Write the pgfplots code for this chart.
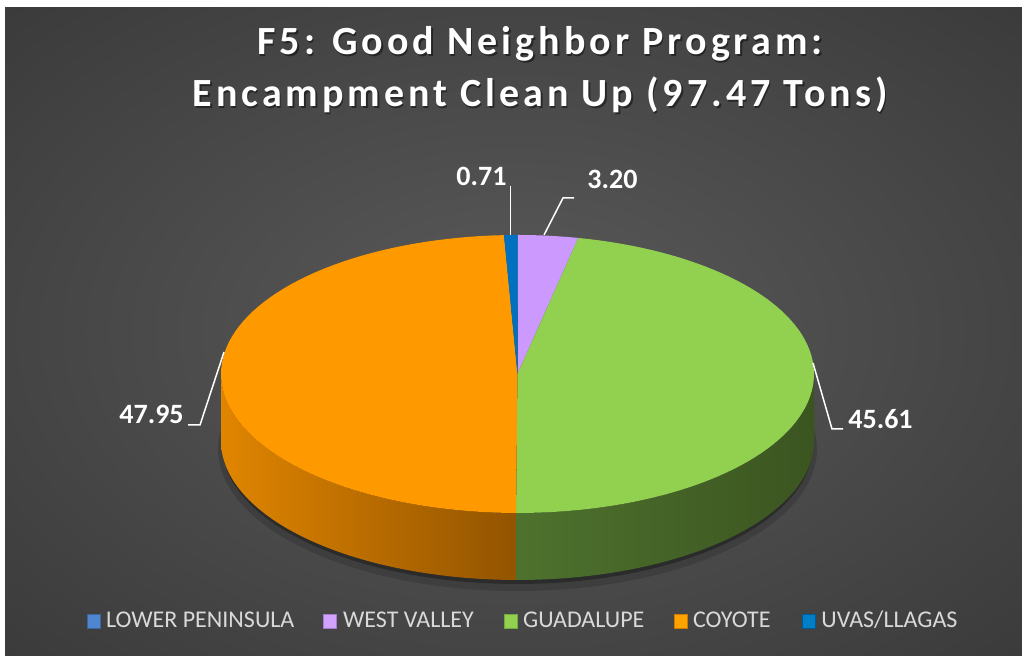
\documentclass[border=0pt]{standalone}
\usepackage{pgfplots}
\pgfplotsset{compat=1.18}
\usepackage{pgfplotstable}
\usepackage{fontspec}
\setmainfont{Carlito}
\newfontfamily\titlefont[LetterSpace=10]{Carlito}

\definecolor{cLP}{HTML}{4F86CF}
\definecolor{cWV}{HTML}{CC99FF}
\definecolor{cGU}{HTML}{92D050}
\definecolor{cCO}{HTML}{FF9900}
\definecolor{cUV}{HTML}{0070C0}
\definecolor{coL}{HTML}{E08500}
\definecolor{coM}{HTML}{BB6E06}
\definecolor{coR}{HTML}{925400}
\definecolor{guL}{HTML}{4E722E}
\definecolor{guM}{HTML}{415E25}
\definecolor{guR}{HTML}{3B5520}
\definecolor{legtxt}{HTML}{D9D9D9}
\definecolor{bgc}{HTML}{5A5A5A}
\definecolor{bge}{HTML}{2E2E2E}
\definecolor{bgx}{HTML}{262626}
\pgfdeclareradialshading{bgshade}{\pgfpoint{0bp}{0bp}}{color(0bp)=(bgc); color(50bp)=(bge); color(72bp)=(bgx)}

\pgfplotstableread{
region value
LP 0
WV 3.20
GU 45.61
CO 47.95
UV 0.71
}\piedata
\pgfplotstablegetelem{0}{value}\of\piedata \let\vLP\pgfplotsretval
\pgfplotstablegetelem{1}{value}\of\piedata \let\vWV\pgfplotsretval
\pgfplotstablegetelem{2}{value}\of\piedata \let\vGU\pgfplotsretval
\pgfplotstablegetelem{3}{value}\of\piedata \let\vCO\pgfplotsretval
\pgfplotstablegetelem{4}{value}\of\piedata \let\vUV\pgfplotsretval
\pgfmathsetmacro\tot{\vLP+\vWV+\vGU+\vCO+\vUV}
\pgfmathsetmacro\aB{90-360*(\vLP/\tot)}
\pgfmathsetmacro\aC{\aB-360*(\vWV/\tot)}
\pgfmathsetmacro\aD{\aC-360*(\vGU/\tot)}
\pgfmathsetmacro\aE{\aD-360*(\vCO/\tot)}
\pgfmathsetmacro\aF{\aE-360*(\vUV/\tot)}

\def\cx{517.5}
\def\cy{282}
\def\rx{296.5}
\def\ry{139}
\def\dd{67}

% top slice: #1 options, #2 from angle, #3 to angle
\newcommand{\topslice}[3]{%
\addplot[#1, draw=none, domain=#2:#3, samples=80, variable=\t]
 ({\cx+\rx*cos(\t)},{\cy+\ry*sin(\t)}) -- (axis cs:\cx,\cy) -- cycle;}
% side wall
\newcommand{\sidewall}[3]{%
\addplot[#1, draw=none, samples at={0,0.01,...,0.99,1,1.00001,1.01,...,2,2}, variable=\t]
 ({\cx+\rx*cos(#2+(#3-#2)*(1-abs(1-\t)))},{\cy+\ry*sin(#2+(#3-#2)*(1-abs(1-\t)))-\dd*(\t>1)}) -- cycle;}

\begin{document}
\begin{tikzpicture}
\useasboundingbox (0,0) rectangle (511pt,328pt);
\fill[white] (0,0) rectangle (511pt,328pt);
\shade[shading=bgshade] (2.5pt,0) rectangle (511pt,324pt);
\begin{axis}[at={(0,0)}, anchor=south west, scale only axis,
  width=511pt, height=328pt, xmin=0, xmax=1022, ymin=0, ymax=656,
  hide axis, clip=false, no markers]

% shadow under the pie
\addplot[draw=none, fill=black, fill opacity=0.15, domain=0:360, samples=120, variable=\t]
 ({\cx+(\rx+3)*cos(\t)},{\cy-\dd-8+(\ry+3)*sin(\t)}) -- cycle;
\addplot[draw=none, fill=black, fill opacity=0.3, domain=0:360, samples=120, variable=\t]
 ({\cx+(\rx-1)*cos(\t)},{\cy-\dd-4+(\ry)*sin(\t)}) -- cycle;

% side walls (visible front half)
\sidewall{left color=coL, middle color=coM, right color=coR}{-180}{\aD}
\sidewall{left color=guL, middle color=guM, right color=guR}{\aD}{0}

% top faces
\topslice{fill=cWV}{\aC}{\aB}
\topslice{fill=cGU}{\aD}{\aC}
\topslice{fill=cCO}{\aE}{\aD}
\topslice{fill=cUV}{\aF}{\aE}

% leader lines
\addplot[white, line width=0.75pt] coordinates {(510.7,470) (510.7,421)};
\addplot[white, line width=0.75pt] coordinates {(544,421) (563,458) (574,458)};
\addplot[white, line width=0.75pt] coordinates {(224,304) (200,231) (188,231)};
\addplot[white, line width=0.75pt] coordinates {(813,293) (832,227) (843,227)};

% data labels
\node[anchor=base west, text=white, font=\bfseries\fontsize{14}{16}\selectfont, inner sep=0pt] at (axis cs:456,470) {0.71};
\node[anchor=base west, text=white, font=\bfseries\fontsize{14}{16}\selectfont, inner sep=0pt] at (axis cs:587,467) {3.20};
\node[anchor=base west, text=white, font=\bfseries\fontsize{14}{16}\selectfont, inner sep=0pt] at (axis cs:119,232) {47.95};
\node[anchor=base west, text=white, font=\bfseries\fontsize{14}{16}\selectfont, inner sep=0pt] at (axis cs:848,227) {45.61};

% title
\node[anchor=base, text=black, opacity=0.45, font=\titlefont\bfseries\fontsize{20}{24}\selectfont, inner sep=0pt] at (axis cs:541.5,599.5) {F5: Good Neighbor Program:};
\node[anchor=base, text=white, font=\titlefont\bfseries\fontsize{20}{24}\selectfont, inner sep=0pt] at (axis cs:540,601) {F5: Good Neighbor Program:};
\node[anchor=base, text=black, opacity=0.45, font=\titlefont\bfseries\fontsize{20}{24}\selectfont, inner sep=0pt] at (axis cs:541.5,547.5) {Encampment Clean Up (97.47 Tons)};
\node[anchor=base, text=white, font=\titlefont\bfseries\fontsize{20}{24}\selectfont, inner sep=0pt] at (axis cs:540,549) {Encampment Clean Up (97.47 Tons)};

% legend
\fill[cLP, draw=cLP!75!black, line width=0.3pt] (axis cs:87,28) rectangle (axis cs:100.5,41.5);
\node[anchor=base west, text=legtxt, font=\fontsize{12}{14}\selectfont, inner sep=0pt] at (axis cs:105.7,28.3) {LOWER PENINSULA};
\fill[cWV!90!white, draw=cWV!80!black, line width=0.3pt] (axis cs:323,28) rectangle (axis cs:336.5,41.5);
\node[anchor=base west, text=legtxt, font=\fontsize{12}{14}\selectfont, inner sep=0pt] at (axis cs:342.7,28.3) {WEST VALLEY};
\fill[cGU, draw=cGU!80!black, line width=0.3pt] (axis cs:504,28) rectangle (axis cs:517.5,41.5);
\node[anchor=base west, text=legtxt, font=\fontsize{12}{14}\selectfont, inner sep=0pt] at (axis cs:522.7,28.3) {GUADALUPE};
\fill[cCO!90!yellow, draw=cCO!80!black, line width=0.3pt] (axis cs:674,28) rectangle (axis cs:687.5,41.5);
\node[anchor=base west, text=legtxt, font=\fontsize{12}{14}\selectfont, inner sep=0pt] at (axis cs:692.7,28.3) {COYOTE};
\fill[cUV!90!cyan, draw=cUV!80!black, line width=0.3pt] (axis cs:802,28) rectangle (axis cs:815.5,41.5);
\node[anchor=base west, text=legtxt, font=\fontsize{12}{14}\selectfont, inner sep=0pt] at (axis cs:821,28.3) {UVAS/LLAGAS};
\end{axis}
\end{tikzpicture}
\end{document}
